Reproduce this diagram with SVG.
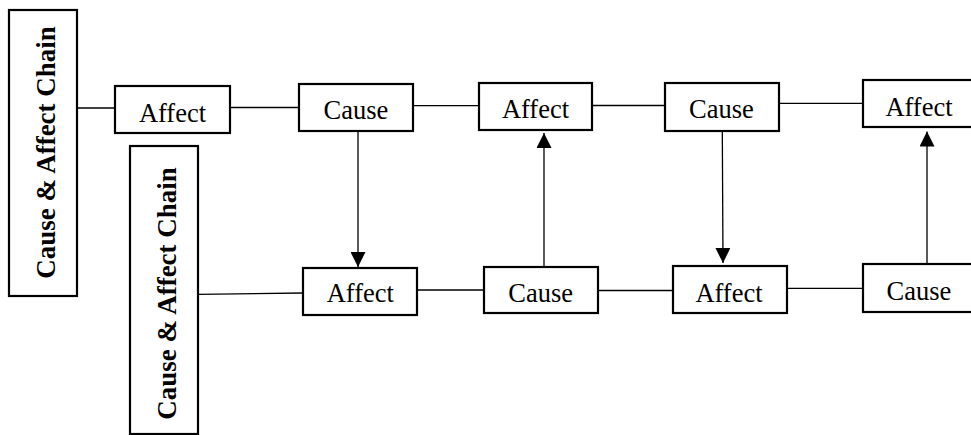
<svg xmlns="http://www.w3.org/2000/svg" width="971" height="435" viewBox="0 0 971 435">
<style>
.box{fill:#fff;stroke:#000;stroke-width:2.2}
.lbl{font-family:"Liberation Serif","Times New Roman",serif;font-size:26.5px;fill:#000;text-anchor:middle}
.vlbl{font-family:"Liberation Serif","Times New Roman",serif;font-size:27px;font-weight:bold;fill:#000;text-anchor:middle}
.con{stroke:#000;stroke-width:1.3;fill:none}
</style>
<defs>
<marker id="ah" viewBox="0 0 15 15" refX="15" refY="7.5" markerWidth="15" markerHeight="15" markerUnits="userSpaceOnUse" orient="auto">
<path d="M0,0 L15,7.5 L0,15 Z" fill="#000"/>
</marker>
</defs>
<rect width="971" height="435" fill="#fff"/>
<g id="connectors">
<line class="con" x1="77" y1="108" x2="115" y2="108"/>
<line class="con" x1="230" y1="107.5" x2="299" y2="107.5"/>
<line class="con" x1="413" y1="105.7" x2="479" y2="105.7"/>
<line class="con" x1="592" y1="105.5" x2="665" y2="105.5"/>
<line class="con" x1="779" y1="103.3" x2="863" y2="103.3"/>
<line class="con" x1="198" y1="294.3" x2="303" y2="293"/>
<line class="con" x1="417" y1="290" x2="484" y2="290"/>
<line class="con" x1="598" y1="290.5" x2="673" y2="290.5"/>
<line class="con" x1="787" y1="288.3" x2="863" y2="288.3"/>
<line class="con" x1="358" y1="131" x2="358" y2="267" marker-end="url(#ah)"/>
<line class="con" x1="544" y1="267" x2="544" y2="133" marker-end="url(#ah)"/>
<line class="con" x1="722.3" y1="131" x2="723" y2="263" marker-end="url(#ah)"/>
<line class="con" x1="927" y1="264" x2="927" y2="131.5" marker-end="url(#ah)"/>
</g>
<g id="chain1">
<rect class="box" x="9" y="10" width="68" height="286"/>
<text class="vlbl" transform="translate(55,152.5) rotate(-90)">Cause &amp; Affect Chain</text>
</g>
<g id="chain2">
<rect class="box" x="130" y="146" width="68" height="288"/>
<text class="vlbl" transform="translate(176,293.5) rotate(-90)">Cause &amp; Affect Chain</text>
</g>
<g id="affect-t1">
<rect class="box" x="115" y="86" width="115" height="47"/>
<text class="lbl" x="172.5" y="121.5">Affect</text>
</g>
<g id="cause-t1">
<rect class="box" x="299" y="84" width="114" height="47"/>
<text class="lbl" x="356" y="119.3">Cause</text>
</g>
<g id="affect-t2">
<rect class="box" x="479" y="83" width="113" height="47"/>
<text class="lbl" x="535.5" y="118.3">Affect</text>
</g>
<g id="cause-t2">
<rect class="box" x="665" y="83" width="114" height="48"/>
<text class="lbl" x="721.5" y="118.3">Cause</text>
</g>
<g id="affect-t3">
<rect class="box" x="863" y="80" width="120" height="47"/>
<text class="lbl" x="919" y="115.7">Affect</text>
</g>
<g id="affect-b1">
<rect class="box" x="303" y="268" width="114" height="47"/>
<text class="lbl" x="360.3" y="302.3">Affect</text>
</g>
<g id="cause-b1">
<rect class="box" x="484" y="267" width="114" height="46"/>
<text class="lbl" x="540.7" y="301.7">Cause</text>
</g>
<g id="affect-b2">
<rect class="box" x="673" y="266" width="114" height="47"/>
<text class="lbl" x="729" y="301.7">Affect</text>
</g>
<g id="cause-b2">
<rect class="box" x="863" y="264" width="120" height="48"/>
<text class="lbl" x="919" y="300">Cause</text>
</g>
</svg>
